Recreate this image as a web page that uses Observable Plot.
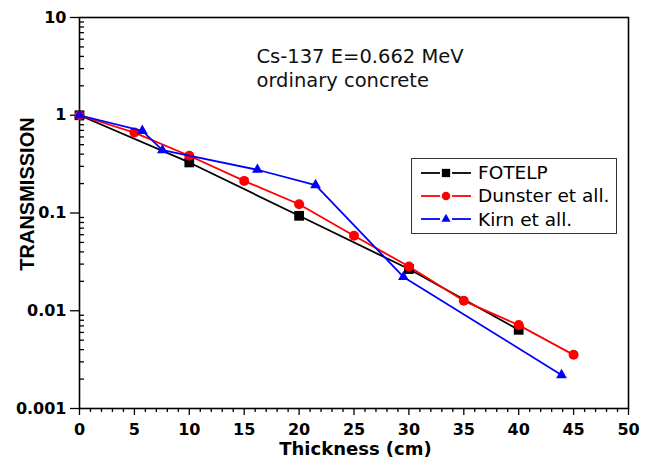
<!DOCTYPE html>
<html>
<head>
<meta charset="utf-8">
<script src="https://cdn.jsdelivr.net/npm/d3@7"></script>
<script src="https://cdn.jsdelivr.net/npm/@observablehq/plot@0.6"></script>
<style>
  html, body { margin: 0; padding: 0; background: #fff; }
  #wrap { position: relative; width: 651px; height: 459px; }
  #legend {
    position: absolute; left: 411px; top: 158px; width: 204px; height: 72px;
    border: 1.3px solid #333; background: #fff; box-sizing: content-box;
    font-family: "DejaVu Sans", sans-serif; font-size: 18.5px; color: #000;
    padding-top: 2px;
  }
  .row { display: flex; align-items: center; height: 23.3px; }
  .row svg { margin-left: 9px; margin-right: 7px; flex: none; }
</style>
</head>
<body>
<div id="wrap"></div>
<script>
// ---- data ----
const seriesNames = ["FOTELP", "Dunster et all.", "Kirn et all."];
const seriesColors = ["#000000", "#ff0000", "#0000ff"];
const seriesSymbols = ["square", "circle", "triangle"];

const fotelpX = [0, 10, 20, 30, 40];
const fotelpY = [1, 0.329, 0.0936, 0.0267, 0.00638];

const dunsterX = [0, 5, 10, 15, 20, 25, 30, 35, 40, 45];
const dunsterY = [1, 0.665, 0.385, 0.213, 0.123, 0.0584, 0.0284, 0.01264, 0.00713, 0.00354];

const kirnX = [0, 5.72, 7.55, 16.2, 21.5, 29.5, 43.9];
const kirnY = [1, 0.693, 0.44, 0.277, 0.193, 0.0222, 0.0022];

const xMajorTicks = [0, 5, 10, 15, 20, 25, 30, 35, 40, 45, 50];
const xMinorTicks = d3.range(0, 51).filter(d => d % 5 !== 0);
const yMajorTicks = [0.001, 0.01, 0.1, 1, 10];
const yTickLabels = ["0.001", "0.01", "0.1", "1", "10"];
const yMinorTicks = [0.001, 0.01, 0.1, 1].flatMap(d => d3.range(2, 10).map(k => +(k * d).toPrecision(2)));

const xLabel = "Thickness (cm)";
const yLabel = "TRANSMISSION";
const annotation = ["Cs-137 E=0.662 MeV", "ordinary concrete"];

// ---- build ----
const seriesX = [fotelpX, dunsterX, kirnX];
const seriesY = [fotelpY, dunsterY, kirnY];
const rows = seriesNames.flatMap((name, s) =>
  seriesX[s].map((x, i) => ({series: name, x, y: seriesY[s][i]})));
const symR = {square: 5.5, circle: 5, triangle: 4};

const marks = [
  Plot.axisX({ticks: xMinorTicks, tickSize: 4, tickFormat: () => "", label: null, strokeWidth: 1.3}),
  Plot.axisX({ticks: xMajorTicks, tickSize: 7, tickPadding: 8, label: null, strokeWidth: 1.3,
    fontSize: 16, fontWeight: "bold", fontFamily: "DejaVu Sans"}),
  Plot.axisY({ticks: yMinorTicks, tickSize: 5, dx: 5, tickFormat: () => "", label: null, strokeWidth: 1.3}),
  Plot.axisY({ticks: yMajorTicks, tickSize: 9, tickPadding: 4, label: null, strokeWidth: 1.3,
    tickFormat: d => yTickLabels[yMajorTicks.indexOf(d)],
    fontSize: 16, fontWeight: "bold", fontFamily: "DejaVu Sans"}),
  Plot.frame({stroke: "#000", strokeWidth: 1.6}),
  Plot.text([annotation.join("\n")], {frameAnchor: "top-left", dx: 177, dy: 29,
    textAnchor: "start", lineAnchor: "top", lineHeight: 1.22, fontSize: 19.5, fill: "#111"}),
  Plot.text([yLabel], {frameAnchor: "left", rotate: -90, dx: -52, dy: -19,
    textAnchor: "middle", lineAnchor: "middle",
    fontSize: 20, fontWeight: "bold", fontFamily: "Liberation Sans"}),
  Plot.text([xLabel], {frameAnchor: "bottom", dx: 1.5, dy: 46,
    textAnchor: "middle", lineAnchor: "bottom",
    fontSize: 18, fontWeight: "bold", fontFamily: "DejaVu Sans"})
];
seriesNames.forEach((name, s) => {
  const data = rows.filter(d => d.series === name);
  marks.push(Plot.line(data, {x: "x", y: "y", stroke: seriesColors[s], strokeWidth: 1.8}));
  marks.push(Plot.dot(data, {x: "x", y: "y", fill: seriesColors[s], stroke: "none",
    symbol: () => seriesSymbols[s], r: symR[seriesSymbols[s]]}));
});

const chart = Plot.plot({
  width: 651, height: 459,
  marginLeft: 79, marginRight: 23, marginTop: 17, marginBottom: 51,
  style: {fontFamily: "DejaVu Sans", background: "#fff", color: "#000"},
  x: {domain: [0, 50]},
  y: {type: "log", domain: [0.001, 10]},
  symbol: {domain: seriesSymbols, range: seriesSymbols},
  marks
});

const wrap = document.getElementById("wrap");
wrap.appendChild(chart);

// legend
const legend = document.createElement("div");
legend.id = "legend";
seriesNames.forEach((name, s) => {
  const row = document.createElement("div");
  row.className = "row";
  const sw = d3.create("svg").attr("width", 50).attr("height", 20);
  sw.append("line").attr("x1", 0).attr("x2", 19).attr("y1", 10).attr("y2", 10)
    .attr("stroke", seriesColors[s]).attr("stroke-width", 1.8);
  sw.append("line").attr("x1", 31).attr("x2", 50).attr("y1", 10).attr("y2", 10)
    .attr("stroke", seriesColors[s]).attr("stroke-width", 1.8);
  const sym = d3.symbol().type({square: d3.symbolSquare, circle: d3.symbolCircle, triangle: d3.symbolTriangle}[seriesSymbols[s]])
    .size(Math.PI * Math.pow(symR[seriesSymbols[s]] * 0.85, 2));
  sw.append("path").attr("d", sym()).attr("transform", "translate(25,10)").attr("fill", seriesColors[s]);
  row.appendChild(sw.node());
  const t = document.createElement("span");
  t.textContent = name;
  row.appendChild(t);
  legend.appendChild(row);
});
wrap.appendChild(legend);
</script>
</body>
</html>
